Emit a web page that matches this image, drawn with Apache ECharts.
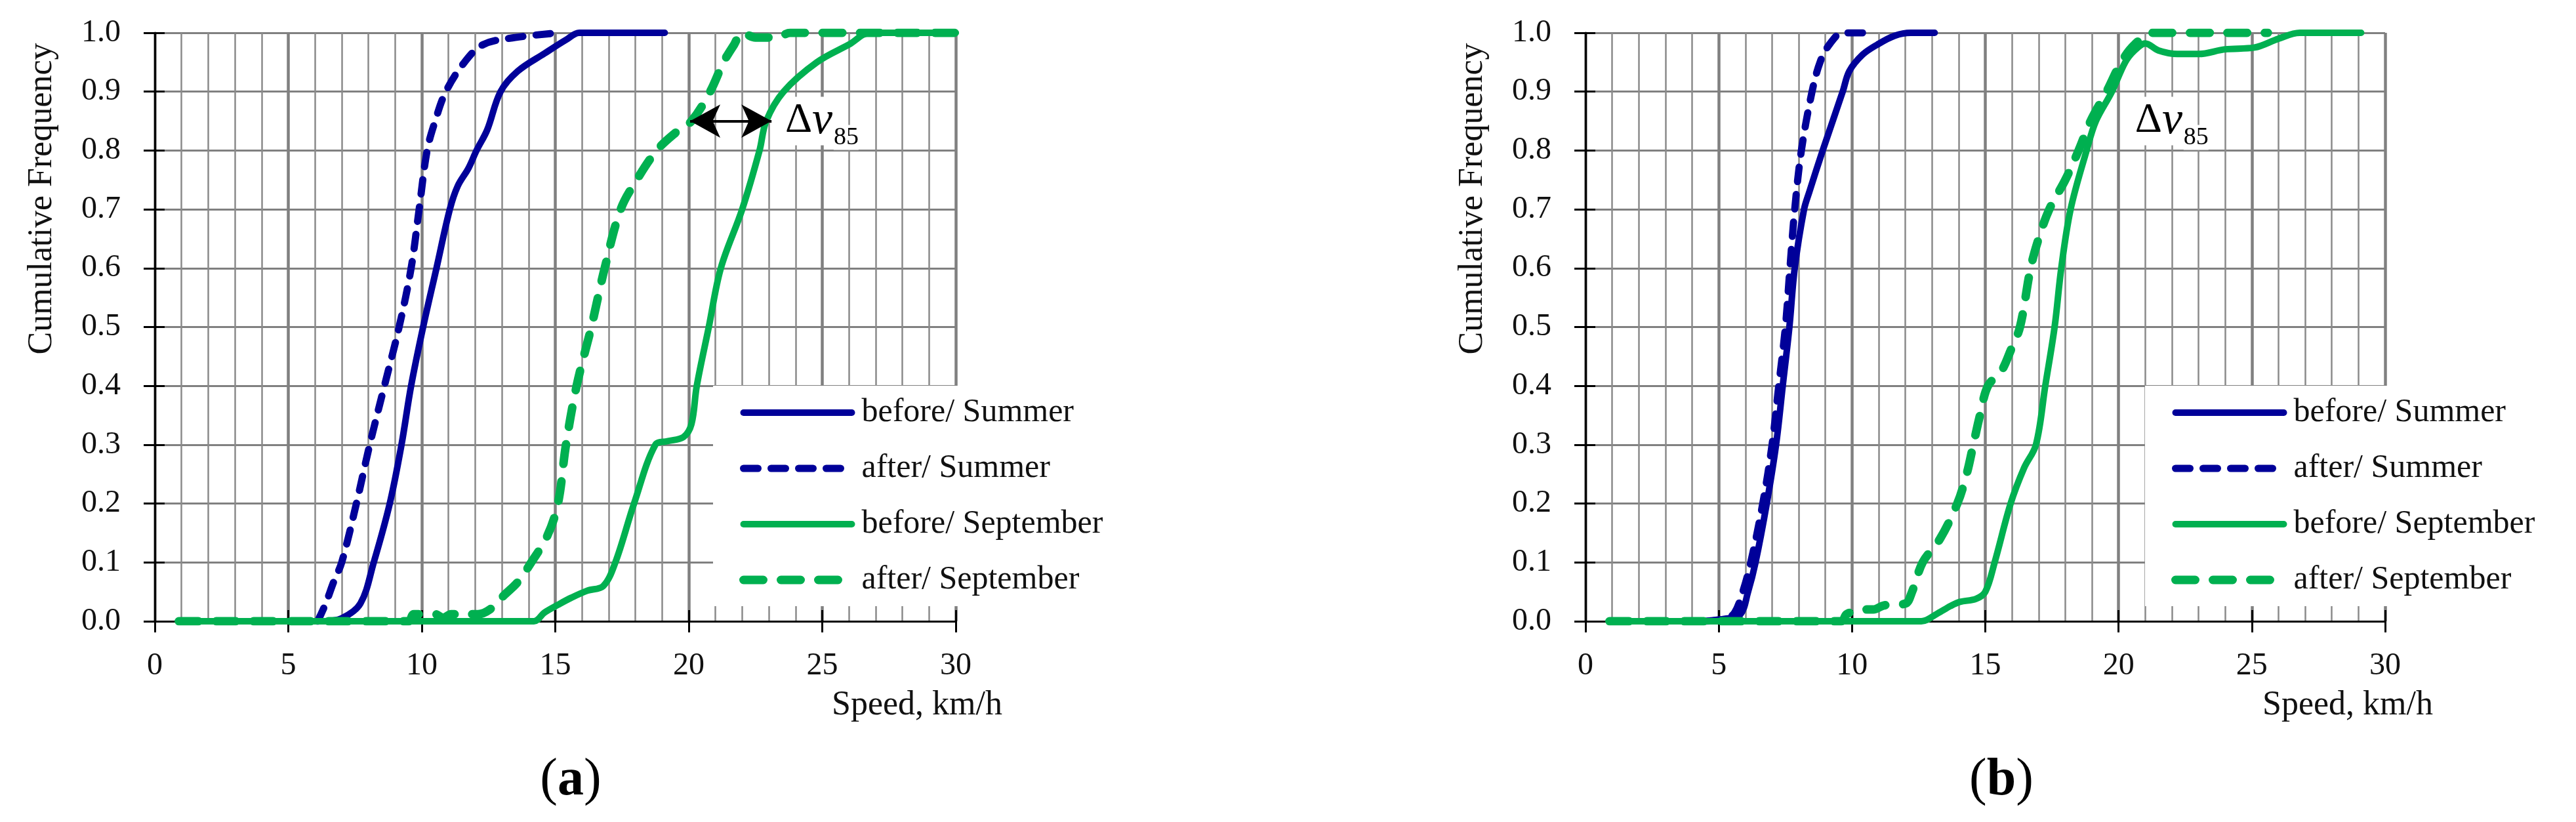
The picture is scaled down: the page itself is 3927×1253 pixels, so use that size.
<!DOCTYPE html>
<html>
<head>
<meta charset="utf-8">
<script src="https://cdn.jsdelivr.net/npm/echarts@6/dist/echarts.min.js"></script>
<style>
  html, body { margin: 0; padding: 0; background: #fff; }
  #main { width: 3927px; height: 1253px; }
</style>
</head>
<body>
<div id="main"></div>
<script>
// tick labels
const xTicks = [0, 5, 10, 15, 20, 25, 30];
const yTicks = ['0.0', '0.1', '0.2', '0.3', '0.4', '0.5', '0.6', '0.7', '0.8', '0.9', '1.0'];
const seriesNames = ['before/ Summer', 'after/ Summer', 'before/ September', 'after/ September'];

// panel (a): [speed km/h, cumulative frequency]
const beforeSummerA = [[6.3,0],[7.0,0.005],[7.7,0.03],[8.2,0.1],[8.8,0.2],[9.24,0.3],[9.6,0.4],[10.05,0.5],[10.55,0.6],[11.05,0.7],[11.35,0.74],[11.75,0.77],[12.05,0.8],[12.45,0.835],[12.95,0.9],[13.6,0.935],[14.6,0.965],[15.4,0.988],[15.9,1.0],[19.1,1.0]];
const afterSummerA = [[6.1,0],[6.4,0.03],[6.7,0.067],[7.0,0.1],[7.55,0.2],[8.05,0.3],[8.6,0.4],[9.15,0.5],[9.6,0.6],[9.9,0.7],[10.2,0.8],[10.5,0.85],[10.9,0.9],[11.6,0.95],[12.3,0.98],[13.5,0.992],[15.2,1.0]];
const beforeSeptA = [[0.9,0],[14.2,0],[14.6,0.015],[15.1,0.028],[15.6,0.04],[16.2,0.052],[16.8,0.06],[17.25,0.1],[17.95,0.2],[18.75,0.3],[19.2,0.306],[19.8,0.313],[20.1,0.335],[20.3,0.4],[20.75,0.5],[21.2,0.6],[22.0,0.7],[22.65,0.8],[22.9,0.85],[23.55,0.9],[24.8,0.95],[26.0,0.98],[26.8,1.0],[30,1.0]];
const afterSeptA = [[0.9,0],[9.5,0],[9.7,0.012],[10.5,0.012],[10.8,0.006],[11.1,0.012],[12.1,0.012],[12.55,0.02],[13.1,0.045],[13.6,0.067],[14.1,0.1],[14.7,0.145],[15.1,0.2],[15.4,0.3],[15.8,0.4],[16.35,0.5],[16.85,0.6],[17.45,0.7],[18.05,0.75],[18.8,0.8],[19.5,0.83],[20.1,0.85],[20.8,0.9],[21.3,0.95],[21.7,0.98],[22.0,1.0],[22.5,0.992],[23.3,0.992],[23.8,1.0],[30,1.0]];

// panel (b)
const beforeSummerB = [[4.5,0],[5.2,0.004],[5.8,0.011],[6.1,0.05],[6.38,0.1],[6.8,0.2],[7.15,0.3],[7.4,0.4],[7.65,0.5],[7.85,0.6],[8.2,0.7],[8.4,0.73],[8.9,0.8],[9.65,0.9],[9.9,0.935],[10.4,0.963],[10.95,0.98],[11.6,0.995],[12.2,1.0],[13.1,1.0]];
const afterSummerB = [[4.5,0],[5.3,0.005],[5.6,0.015],[5.9,0.05],[6.2,0.1],[6.65,0.2],[7.0,0.3],[7.25,0.4],[7.5,0.5],[7.67,0.6],[7.85,0.7],[8.1,0.8],[8.5,0.9],[8.8,0.95],[9.15,0.98],[9.65,1.0],[10.5,1.0]];
const beforeSeptB = [[0.9,0],[12.6,0],[13.2,0.013],[13.7,0.026],[14.05,0.033],[14.65,0.038],[15.0,0.05],[15.35,0.1],[15.95,0.2],[16.45,0.26],[16.9,0.3],[17.25,0.4],[17.6,0.5],[17.85,0.6],[18.2,0.7],[18.8,0.8],[19.15,0.85],[19.75,0.9],[20.25,0.95],[20.6,0.97],[21.0,0.982],[21.5,0.97],[22.2,0.964],[23.0,0.964],[24.0,0.972],[25.1,0.975],[26.0,0.99],[26.8,1.0],[29.1,1.0]];
const afterSeptB = [[0.9,0],[9.6,0],[9.8,0.012],[10.4,0.02],[10.8,0.02],[11.2,0.027],[12.0,0.03],[12.25,0.05],[12.65,0.1],[13.3,0.14],[13.95,0.2],[14.3,0.25],[14.55,0.3],[14.8,0.35],[15.1,0.4],[15.6,0.425],[15.95,0.46],[16.3,0.5],[16.7,0.6],[17.0,0.65],[17.4,0.7],[18.0,0.75],[18.5,0.8],[18.95,0.85],[19.55,0.9],[20.1,0.95],[20.6,0.98],[21.3,1.0],[25.6,1.0]];

const FONT = 'Liberation Serif';
const BLUE = '#000099';
const GREEN = '#00B050';
const GRIDC = '#808080';

const chart = echarts.init(document.getElementById('main'));

const grids = [
  { left: 236, top: 50, width: 1221, height: 897 },
  { left: 2417, top: 50, width: 1219, height: 897 }
];

const xAxes = [];
const yAxes = [];
grids.forEach((g, gi) => {
  // main axes: labels, outer ticks, grid lines
  xAxes.push({
    type: 'value', gridIndex: gi, min: 0, max: 30, interval: 5, position: 'bottom',
    axisLine: { show: true, onZero: false, lineStyle: { color: '#000', width: 3 } },
    axisTick: { show: true, length: 17, lineStyle: { color: '#000', width: 3 } },
    axisLabel: { margin: 44, fontFamily: FONT, fontSize: 48, color: '#111',
      formatter: v => xTicks.includes(v) ? String(v) : '' },
    splitLine: { show: true, lineStyle: { color: GRIDC, width: 4.5 } },
    minorTick: { show: false, splitNumber: 5 },
    minorSplitLine: { show: true, lineStyle: { color: '#8a8a8a', width: 2.5 } }
  });
  yAxes.push({
    type: 'value', gridIndex: gi, min: 0, max: 1, interval: 0.1, position: 'left',
    axisLine: { show: true, onZero: false, lineStyle: { color: '#000', width: 3 } },
    axisTick: { show: true, length: 17, lineStyle: { color: '#000', width: 3 } },
    axisLabel: { margin: 52, fontFamily: FONT, fontSize: 48, color: '#111',
      formatter: v => yTicks[Math.round(v * 10)] },
    splitLine: { show: true, lineStyle: { color: GRIDC, width: 3 } }
  });
  // twin axes only for the inner half of the crossing ticks
  xAxes.push({
    type: 'value', gridIndex: gi, min: 0, max: 30, interval: 5, position: 'bottom',
    axisLine: { show: false }, axisLabel: { show: false }, splitLine: { show: false },
    axisTick: { show: true, inside: true, length: 17, lineStyle: { color: '#000', width: 3 } }
  });
  yAxes.push({
    type: 'value', gridIndex: gi, min: 0, max: 1, interval: 0.1, position: 'left',
    axisLine: { show: false }, axisLabel: { show: false }, splitLine: { show: false },
    axisTick: { show: true, inside: true, length: 15, lineStyle: { color: '#000', width: 3 } }
  });
});

const styles = [
  { color: BLUE, width: 10, type: 'solid' },
  { color: BLUE, width: 11, type: [22, 20] },
  { color: GREEN, width: 10, type: 'solid' },
  { color: GREEN, width: 13, type: [30, 27] }
];

function makeSeries(panel, datasets) {
  return datasets.map((d, i) => ({
    name: seriesNames[i],
    type: 'line',
    xAxisIndex: panel * 2,
    yAxisIndex: panel * 2,
    data: d,
    showSymbol: false,
    symbol: 'none',
    smooth: 0.35,
    lineStyle: { color: styles[i].color, width: styles[i].width, type: styles[i].type, cap: 'round' },
    itemStyle: { color: styles[i].color },
    silent: true
  }));
}

const seriesA = makeSeries(0, [beforeSummerA, afterSummerA, beforeSeptA, afterSeptA]);
const seriesB = makeSeries(1, [beforeSummerB, afterSummerB, beforeSeptB, afterSeptB]);

// double arrow for delta v85 in panel (a)
seriesA[2].markLine = {
  silent: true,
  symbol: ['arrow', 'arrow'],
  symbolSize: [38, 46],
  label: { show: false },
  lineStyle: { color: '#000', width: 4, type: 'solid' },
  itemStyle: { color: '#000' },
  data: [[{ coord: [20.05, 0.85] }, { coord: [23.1, 0.85] }]]
};

function makeLegend(left) {
  return {
    left: left, top: 588, orient: 'vertical',
    backgroundColor: '#fff',
    padding: [16, 30, 15, 40],
    itemWidth: 165, itemHeight: 14, itemGap: 35,
    selectedMode: false,
    lineStyle: { width: 'inherit', type: 'inherit', cap: 'inherit' },
    itemStyle: { color: 'rgba(0,0,0,0)', borderColor: 'rgba(0,0,0,0)', borderWidth: 0 },
    textStyle: { fontFamily: FONT, fontSize: 50, color: '#111', lineHeight: 50, padding: [0, 0, 0, 10] },
    data: seriesNames
  };
}

chart.setOption({
  backgroundColor: '#fff',
  animation: false,
  grid: grids,
  xAxis: xAxes,
  yAxis: yAxes,
  legend: [makeLegend(1087), makeLegend(3270)],
  series: seriesA.concat(seriesB)
});

// text annotations placed through the chart's own coordinate conversion
const graphics = [];
grids.forEach((g, gi) => {
  graphics.push({
    type: 'text', rotation: Math.PI / 2, x: g.left - 172, y: 303,
    style: { text: 'Cumulative Frequency', fontFamily: FONT, fontSize: 52, fill: '#111',
      align: 'center', verticalAlign: 'middle' }
  });
  graphics.push({
    type: 'text', x: g.left + 1032, y: 1075,
    style: { text: 'Speed, km/h', fontFamily: FONT, fontSize: 52, fill: '#111',
      align: 'left', verticalAlign: 'middle' }
  });
  graphics.push({
    type: 'text', x: g.left + 634, y: 1190,
    style: { text: gi === 0 ? '{p|(}{b|a}{p|)}' : '{p|(}{b|b}{p|)}', align: 'center', verticalAlign: 'middle',
      rich: {
        p: { fontFamily: FONT, fontSize: 80, fill: '#000' },
        b: { fontFamily: FONT, fontSize: 80, fontWeight: 'bold', fill: '#000' }
      } }
  });
});

const dvAnchors = [[23.56, 0.85], [20.57, 0.85]];
dvAnchors.forEach((pt, gi) => {
  const p = chart.convertToPixel({ gridIndex: gi }, pt);
  graphics.push({
    type: 'text', x: p[0], y: p[1], z: 10,
    style: { text: '{d|Δ}{v|v}', align: 'left', verticalAlign: 'middle',
      backgroundColor: '#fff', padding: [2, 2],
      rich: {
        d: { fontFamily: FONT, fontSize: 64, fill: '#000' },
        v: { fontFamily: FONT, fontSize: 70, fontStyle: 'italic', fill: '#000' }
      } }
  });
  graphics.push({
    type: 'text', x: p[0] + 76, y: p[1] + 25, z: 10,
    style: { text: '85', fontFamily: FONT, fontSize: 38, fill: '#000',
      align: 'left', verticalAlign: 'middle', backgroundColor: '#fff' }
  });
});

chart.setOption({ graphic: graphics });
</script>
</body>
</html>
